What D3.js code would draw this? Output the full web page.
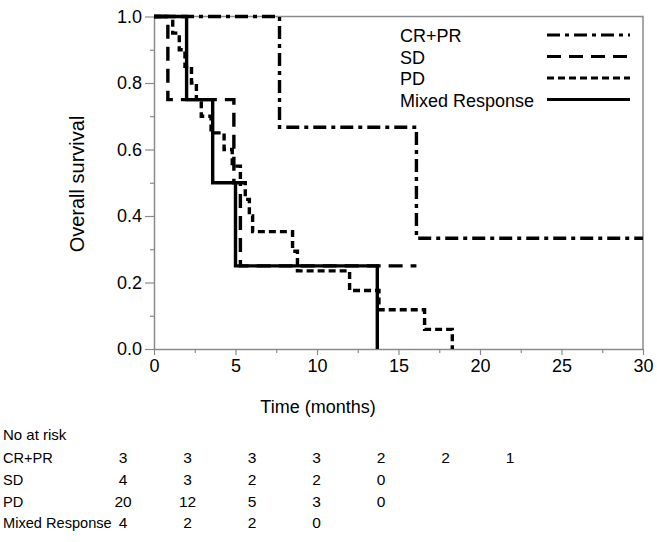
<!DOCTYPE html>
<html><head><meta charset="utf-8">
<script src="https://cdn.jsdelivr.net/npm/d3@7"></script>
<style>
html,body{margin:0;padding:0;background:#fff;}
text{font-family:"Liberation Sans",Arial,sans-serif;fill:#000;}
</style></head>
<body>
<script>
// ---- data ----
const groups = ["CR+PR", "SD", "PD", "Mixed Response"];
const crprTimes = [0, 7.7, 16.1, 30];
const crprSurv  = [1, 0.667, 0.333, 0.333];
const sdTimes = [0, 0.85, 4.9, 5.3, 16.1];
const sdSurv  = [1, 0.75, 0.5, 0.25, 0.25];
const pdTimes = [0, 1.15, 1.55, 1.9, 2.3, 2.6, 2.9, 3.5, 4.3, 4.8, 5.3, 5.6, 5.85, 6.05, 8.5, 8.8, 12.0, 13.8, 16.6, 18.3];
const pdSurv  = [1, 0.95, 0.9, 0.85, 0.8, 0.75, 0.7, 0.65, 0.6, 0.55, 0.5, 0.45, 0.4, 0.353, 0.294, 0.235, 0.176, 0.118, 0.059, 0];
const mixTimes = [0, 2.0, 3.6, 5.0, 13.7];
const mixSurv  = [1, 0.75, 0.5, 0.25, 0];
const xTicks = [0, 5, 10, 15, 20, 25, 30];
const yTicks = [0, 0.2, 0.4, 0.6, 0.8, 1.0];
const riskTimes = [0, 5, 10, 15, 20, 25, 30];
const riskCRPR = [3, 3, 3, 3, 2, 2, 1];
const riskSD = [4, 3, 2, 2, 0];
const riskPD = [20, 12, 5, 3, 0];
const riskMix = [4, 2, 2, 0];

// ---- layout ----
const W = 657, H = 542;
const x0 = 154, x1 = 643, yTop = 16.5, yBot = 349;
const svg = d3.select("body").append("svg").attr("width", W).attr("height", H);
svg.append("rect").attr("width", W).attr("height", H).attr("fill", "#fff");

const x = d3.scaleLinear().domain([0, 30]).range([x0, x1]);
const y = d3.scaleLinear().domain([0, 1]).range([yBot, yTop]);

// frame (top/right)
svg.append("path").attr("d", `M${x0},${yTop}H${x1}V${yBot}`)
  .attr("fill", "none").attr("stroke", "#8a8a8a").attr("stroke-width", 1.5);

// y axis
const yAx = svg.append("g").attr("transform", `translate(${x0},0)`)
  .call(d3.axisLeft(y).tickValues(yTicks).tickFormat(d3.format(".1f")).tickSize(9).tickSizeOuter(0));
svg.append("g").attr("transform", `translate(${x0},0)`)
  .call(d3.axisLeft(y).tickValues(d3.range(0.1, 1, 0.2)).tickFormat("").tickSize(4).tickSizeOuter(0))
  .select(".domain").remove();
// x axis
const xAx = svg.append("g").attr("transform", `translate(0,${yBot})`)
  .call(d3.axisBottom(x).tickValues(xTicks).tickSize(6).tickSizeOuter(0));
svg.append("g").attr("transform", `translate(0,${yBot})`)
  .call(d3.axisBottom(x).tickValues([2.5, 7.5, 12.5, 17.5, 22.5, 27.5]).tickFormat("").tickSize(4).tickSizeOuter(0))
  .select(".domain").remove();
svg.selectAll(".domain").attr("stroke", "#8a8a8a").attr("stroke-width", 1.5);
svg.selectAll(".tick line").attr("stroke", "#8a8a8a").attr("stroke-width", 1.2);
yAx.selectAll(".tick text").attr("font-size", 18).attr("x", -12).attr("font-family", "Liberation Sans, Arial, sans-serif");
xAx.selectAll(".tick text").attr("font-size", 18).attr("y", 10).attr("font-family", "Liberation Sans, Arial, sans-serif");

// axis titles
svg.append("text").attr("transform", `translate(84,184) rotate(-90)`)
  .attr("text-anchor", "middle").attr("font-size", 20).text("Overall survival");
svg.append("text").attr("x", 318).attr("y", 413).attr("text-anchor", "middle")
  .attr("font-size", 18).text("Time (months)");

// curves
const line = d3.line().x(d => x(d[0])).y(d => y(d[1])).curve(d3.curveStepAfter);
const series = [
  {t: crprTimes, s: crprSurv, dash: "13,5,4,5"},
  {t: sdTimes, s: sdSurv, dash: "14,8"},
  {t: pdTimes, s: pdSurv, dash: "7,4"},
  {t: mixTimes, s: mixSurv, dash: null}
];
series.forEach(sr => {
  const pts = sr.t.map((t, i) => [t, sr.s[i]]);
  svg.append("path").attr("d", line(pts)).attr("fill", "none")
    .attr("stroke", "#000").attr("stroke-width", 3.4)
    .attr("stroke-dasharray", sr.dash);
});

// legend
const legBase = [42, 63.5, 85, 106.5];
groups.forEach((g, i) => {
  svg.append("text").attr("x", 400).attr("y", legBase[i]).attr("font-size", 18).text(g);
  svg.append("line").attr("x1", 547).attr("x2", 630)
    .attr("y1", legBase[i] - 7).attr("y2", legBase[i] - 7)
    .attr("stroke", "#000").attr("stroke-width", 3)
    .attr("stroke-dasharray", series[i].dash);
});

// risk table
const rx = d3.scaleLinear().domain([0, 30]).range([123, 510]);
svg.append("text").attr("x", 3).attr("y", 440).attr("font-size", 15).text("No at risk");
const riskRows = [riskCRPR, riskSD, riskPD, riskMix];
const rowBase = [463, 485, 507, 528];
riskRows.forEach((row, i) => {
  svg.append("text").attr("x", 3).attr("y", rowBase[i]).attr("font-size", 14.6).text(groups[i]);
  row.forEach((v, j) => {
    svg.append("text").attr("x", rx(riskTimes[j])).attr("y", rowBase[i])
      .attr("text-anchor", "middle").attr("font-size", 15.5).text(v);
  });
});
</script>
</body></html>
